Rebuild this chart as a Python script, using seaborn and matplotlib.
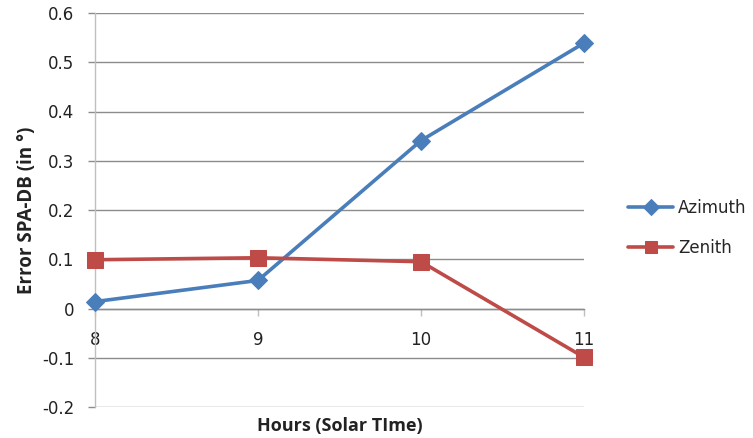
import matplotlib
matplotlib.use("Agg")
import matplotlib.pyplot as plt
import seaborn as sns
import pandas as pd

hours = [8, 9, 10, 11]
azimuth = [0.014, 0.057, 0.341, 0.539]
zenith = [0.099, 0.103, 0.095, -0.099]
series_names = ["Azimuth", "Zenith"]
y_ticks = [-0.2, -0.1, 0, 0.1, 0.2, 0.3, 0.4, 0.5, 0.6]
y_tick_labels = ["-0.2", "-0.1", "0", "0.1", "0.2", "0.3", "0.4", "0.5", "0.6"]

sns.set_theme(style="white")
plt.rcParams["font.family"] = ["DejaVu Sans"]

df = pd.DataFrame({
    "Hours": hours * 2,
    "Error": azimuth + zenith,
    "Series": [series_names[0]] * 4 + [series_names[1]] * 4,
})

fig = plt.figure(figsize=(7.53, 4.38), dpi=100)
ax = fig.add_axes([95 / 753, 1 - 407 / 438, (584 - 95) / 753, (407 - 13) / 438])

palette = {"Azimuth": "#4A7EBB", "Zenith": "#BE4B48"}
markers = {"Azimuth": "D", "Zenith": "s"}
sizes = {"Azimuth": 9.5, "Zenith": 11}
for name in series_names:
    sub = df[df["Series"] == name]
    sns.lineplot(data=sub, x="Hours", y="Error", ax=ax, color=palette[name],
                 marker=markers[name], markersize=sizes[name],
                 markeredgecolor=palette[name], linewidth=2.6, label=name,
                 clip_on=False, zorder=3)

ax.set_xlim(8, 11)
ax.set_ylim(-0.2, 0.6)
ax.set_yticks(y_ticks)
ax.set_yticklabels(y_tick_labels)
ax.set_xticks(hours)
ax.set_xticklabels([str(h) for h in hours])

ax.yaxis.grid(True, color="#8c8c8c", linewidth=1)
ax.xaxis.grid(False)
for s in ["top", "right"]:
    ax.spines[s].set_visible(False)
ax.spines["left"].set_color("#bfbfbf")
ax.spines["left"].set_linewidth(1)
ax.spines["bottom"].set_position(("data", 0))
ax.spines["bottom"].set_color("#8c8c8c")
ax.spines["bottom"].set_linewidth(1)
ax.tick_params(axis="y", which="both", left=True, length=5, width=1, color="#8c8c8c",
               labelsize=12, pad=10, labelcolor="#222222")
ax.tick_params(axis="x", which="both", bottom=True, direction="out", length=5, width=1,
               color="#bfbfbf", labelsize=12, pad=11, labelcolor="#222222")

ax.set_xlabel("Hours (Solar TIme)", fontsize=13, fontweight="bold", color="#222222",
              family=["Open Sans", "DejaVu Sans"])
ax.xaxis.set_label_coords(0.5, -0.025)
ax.set_ylabel("Error SPA-DB (in °)", fontsize=13.5, fontweight="bold", color="#222222",
              family=["Open Sans", "DejaVu Sans"])
ax.yaxis.set_label_coords(-0.118, 0.5)

handles, labels = ax.get_legend_handles_labels()
ax.get_legend().remove()
fig.legend(handles, labels, loc="center left", bbox_to_anchor=(628 / 753, 1 - 228 / 438),
           frameon=False, fontsize=12, handlelength=2.7, labelspacing=1.3,
           handletextpad=0.3, borderpad=0, borderaxespad=0, markerscale=0.85)

fig.savefig("out.png", dpi=100)
